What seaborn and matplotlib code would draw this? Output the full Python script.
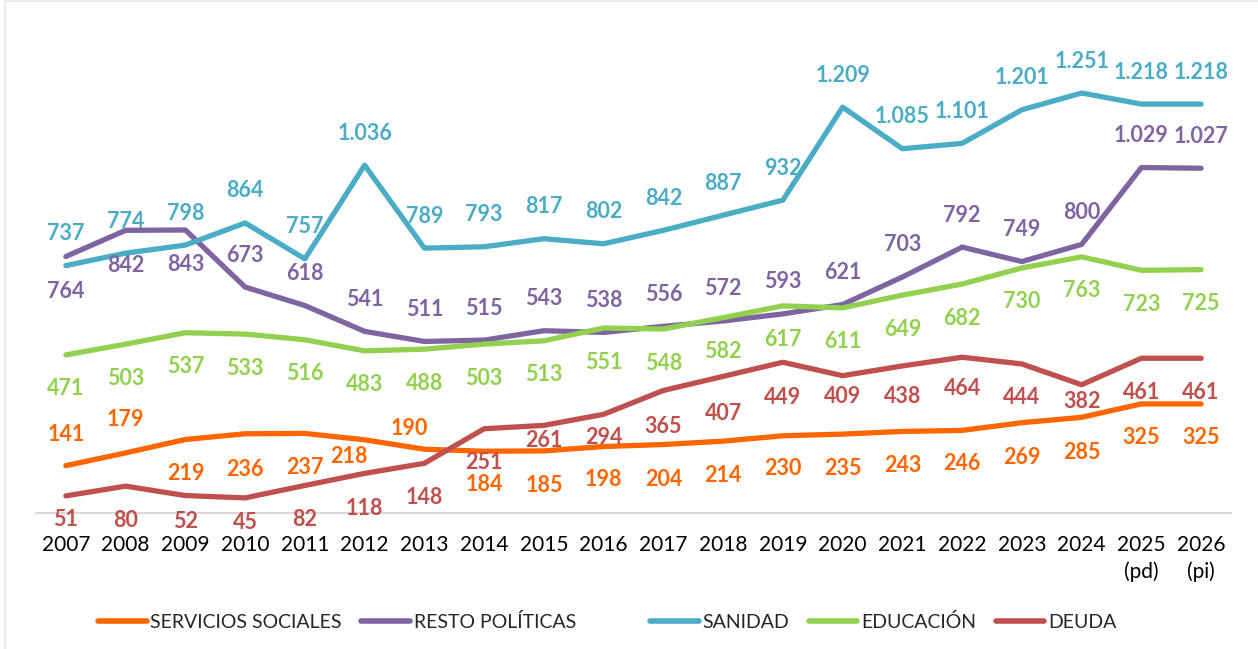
import matplotlib
matplotlib.use("Agg")
import matplotlib.pyplot as plt
import seaborn as sns
import pandas as pd
from matplotlib.lines import Line2D
from matplotlib.patches import Rectangle

# datos (millones de euros)
years = ["2007", "2008", "2009", "2010", "2011", "2012", "2013", "2014", "2015", "2016",
         "2017", "2018", "2019", "2020", "2021", "2022", "2023", "2024", "2025\n(pd)", "2026\n(pi)"]

servicios_sociales = [141, 179, 219, 236, 237, 218, 190, 184, 185, 198,
                      204, 214, 230, 235, 243, 246, 269, 285, 325, 325]
resto_politicas = [764, 842, 843, 673, 618, 541, 511, 515, 543, 538,
                   556, 572, 593, 621, 703, 792, 749, 800, 1029, 1027]
sanidad = [737, 774, 798, 864, 757, 1036, 789, 793, 817, 802,
           842, 887, 932, 1209, 1085, 1101, 1201, 1251, 1218, 1218]
educacion = [471, 503, 537, 533, 516, 483, 488, 503, 513, 551,
             548, 582, 617, 611, 649, 682, 730, 763, 723, 725]
deuda = [51, 80, 52, 45, 82, 118, 148, 251, 261, 294,
         365, 407, 449, 409, 438, 464, 444, 382, 461, 461]

series = ["SERVICIOS SOCIALES", "RESTO POLÍTICAS", "SANIDAD", "EDUCACIÓN", "DEUDA"]
colors = ["#FF6600", "#8064A2", "#4BACC6", "#92D050", "#C0504D"]

# desplazamiento vertical de las etiquetas (pixeles, positivo = debajo de la linea)
ss_dy = [-31, -33, 34, 36, 34, 17, -21, 33, 35, 33, 35, 34, 33, 34, 34, 33, 35, 35, 34, 34]
resto_dy = [35, 35, 35] + [-32] * 17
san_dy = [-32] * 20
edu_dy = [34] * 20
deuda_dy = [24, 34, 26, 25, 34, 35, 34, 34, 15, 23, 36, 37, 35, 21, 31, 31, 34, 17, 34, 34]
ss_dx = {5: -16, 6: -15}

values = [servicios_sociales, resto_politicas, sanidad, educacion, deuda]
offsets = [ss_dy, resto_dy, san_dy, edu_dy, deuda_dy]
nudges = [ss_dx, {}, {}, {}, {}]

rows = []
for name, vals in zip(series, values):
    for i, v in enumerate(vals):
        rows.append({"idx": i, "valor": v, "serie": name})
df = pd.DataFrame(rows)

sns.set_style("white")
plt.rcParams["font.family"] = ["Lato", "DejaVu Sans"]

fig = plt.figure(figsize=(12.58, 6.49), dpi=100)
fig.patches.append(Rectangle((5 / 1258, -0.1), 1.2, 1.1 - 1 / 649, transform=fig.transFigure,
                             fill=False, edgecolor="#ececec", linewidth=1.5))
ax = fig.add_axes([36 / 1258, 1 - 513 / 649, (1231 - 36) / 1258, (513 - 43) / 649])

sns.lineplot(data=df, x="idx", y="valor", hue="serie", palette=dict(zip(series, colors)),
             linewidth=3.8, legend=False, ax=ax, solid_capstyle="round", solid_joinstyle="round")

for name, vals, dys, dxs, col in zip(series, values, offsets, nudges, colors):
    for i, v in enumerate(vals):
        lab = f"{v:,}".replace(",", ".")
        ax.annotate(lab, (i, v), xytext=(dxs.get(i, 0), -dys[i]), textcoords="offset pixels",
                    ha="center", va="center", fontsize=15.5, fontweight="bold", color=col,
                    annotation_clip=False)

ax.set_xlim(-0.5, 19.5)
ax.set_ylim(0, 1400)
ax.set_xticks(range(len(years)))
ax.set_xticklabels(years, fontsize=15, linespacing=1.35)
ax.tick_params(axis="x", length=0, pad=16, colors="black")
ax.set_yticks([])
ax.set_xlabel("")
ax.set_ylabel("")
for s in ["top", "right", "left"]:
    ax.spines[s].set_visible(False)
ax.spines["bottom"].set_color("#d9d9d9")
ax.spines["bottom"].set_linewidth(1.5)
for t in ax.get_xticklabels():
    t.set_verticalalignment("top")

handles = [Line2D([0], [0], color=c, linewidth=4, solid_capstyle="round") for c in colors]
leg_kw = dict(frameon=False, fontsize=14, handlelength=2.5, handletextpad=0.2,
              columnspacing=1.0, borderpad=0, borderaxespad=0, loc="center left",
              bbox_transform=fig.transFigure)
leg1 = ax.legend(handles[:2], series[:2], ncol=2, bbox_to_anchor=(98 / 1258, 1 - 622 / 649), **leg_kw)
ax.add_artist(leg1)
ax.legend(handles[2:], series[2:], ncol=3, bbox_to_anchor=(650 / 1258, 1 - 622 / 649), **leg_kw)

fig.savefig("out.png", dpi=100, facecolor="white")
